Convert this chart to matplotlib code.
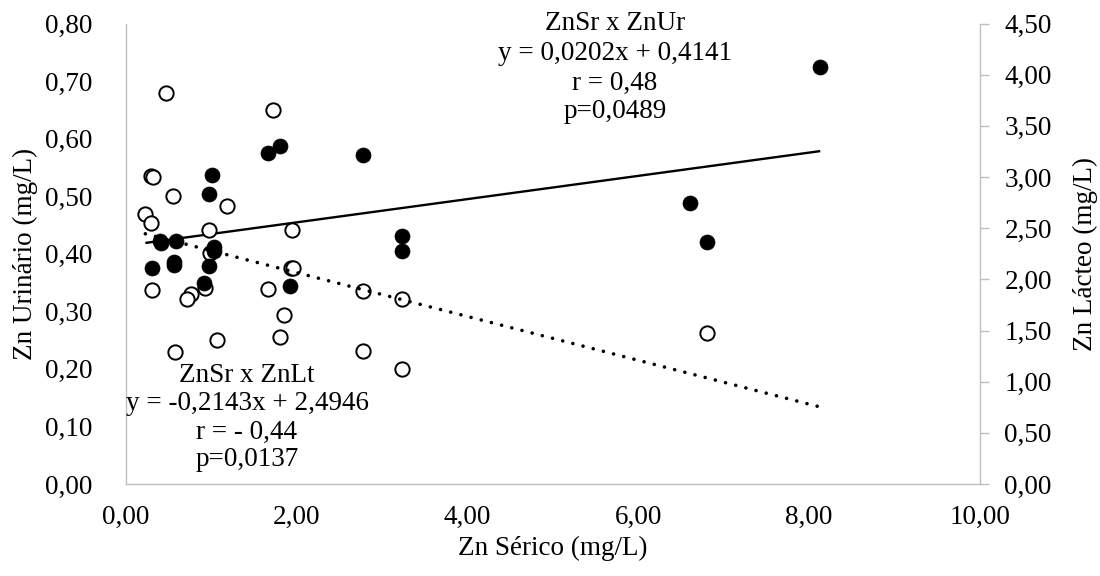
import matplotlib
matplotlib.use("Agg")
import matplotlib.pyplot as plt
import numpy as np
from matplotlib.ticker import FuncFormatter, MultipleLocator

plt.rcParams['font.family'] = ['Liberation Serif', 'DejaVu Serif']

# ZnSr x ZnUr (filled markers, left axis)
znsr_ur = [8.13, 6.60, 6.80, 3.24, 3.24, 2.78, 1.81, 1.66, 1.92, 1.01, 0.98,
           1.03, 1.03, 0.98, 0.92, 0.40, 0.41, 0.59, 0.31, 0.57, 0.57]
znur = [0.724, 0.488, 0.420, 0.430, 0.404, 0.571, 0.588, 0.575, 0.344, 0.537, 0.504,
        0.412, 0.405, 0.379, 0.349, 0.423, 0.418, 0.423, 0.375, 0.385, 0.381]

# ZnSr x ZnLt (open markers, right axis)
znsr_lt = [0.47, 1.73, 0.30, 0.32, 0.55, 1.19, 0.23, 0.30, 0.98, 1.95, 0.99,
           1.93, 1.96, 0.93, 0.31, 0.76, 0.72, 1.66, 1.85, 1.81, 1.07, 0.58,
           2.78, 3.24, 2.78, 3.24, 6.80]
znlt = [3.82, 3.65, 3.01, 3.00, 2.81, 2.72, 2.64, 2.55, 2.48, 2.48, 2.26,
        2.11, 2.11, 1.92, 1.90, 1.86, 1.81, 1.91, 1.65, 1.44, 1.41, 1.29,
        1.89, 1.81, 1.30, 1.12, 1.48]

# trendline coefficients (as printed on the chart)
slope_ur, icpt_ur = 0.0202, 0.4141
slope_lt, icpt_lt = -0.2143, 2.4946

txt_ur = ["ZnSr x ZnUr", "y = 0,0202x + 0,4141", "r = 0,48", "p=0,0489"]
txt_lt = ["ZnSr x ZnLt", "y = -0,2143x + 2,4946", "r = - 0,44", "p=0,0137"]

W, H = 1100, 576
fig = plt.figure(figsize=(11, 5.76), dpi=100)
L, R, B, T = 125.7 / W, 980 / W, 1 - 484 / H, 1 - 23.5 / H
rect = [L, B, R - L, T - B]

ax = fig.add_axes(rect)
ax2 = ax.twinx()
ax3 = fig.add_axes(rect, sharex=ax, sharey=ax)

ax.set_zorder(1)
ax2.set_zorder(2)
ax3.set_zorder(3)
ax2.patch.set_visible(False)
ax3.patch.set_visible(False)
ax3.axis('off')

gray = '#BFBFBF'
FS = 19.5
fmt = FuncFormatter(lambda v, p: f"{v:.2f}".replace('.', ','))

ax.set_xlim(0, 10)
ax.set_ylim(0, 0.80)
ax2.set_ylim(0, 4.50)
ax.xaxis.set_major_locator(MultipleLocator(2))
ax.yaxis.set_major_locator(MultipleLocator(0.1))
ax2.yaxis.set_major_locator(MultipleLocator(0.5))
ax.xaxis.set_major_formatter(fmt)
ax.yaxis.set_major_formatter(fmt)
ax2.yaxis.set_major_formatter(fmt)

for a in (ax, ax2):
    for s in a.spines.values():
        s.set_visible(False)
ax.spines['left'].set_visible(True)
ax.spines['bottom'].set_visible(True)
ax2.spines['right'].set_visible(True)
for s in (ax.spines['left'], ax.spines['bottom'], ax2.spines['right']):
    s.set_color(gray)
    s.set_linewidth(1.0)

ax.tick_params(axis='y', length=0, pad=24, labelsize=FS, colors='black')
ax.tick_params(axis='x', length=0, pad=15, labelsize=FS, colors='black')
ax2.tick_params(axis='y', length=6.5, width=1.0, color=gray, direction='out',
                pad=11, labelsize=FS, labelcolor='black')

xall = np.array(znsr_ur + znsr_lt)
xline = np.array([xall.min(), xall.max()])

# solid trendline (ZnUr)
ax.plot(xline, slope_ur * xline + icpt_ur, color='black', lw=1.7, zorder=2,
        solid_capstyle='butt')

# open markers and dotted trendline (ZnLt)
ax2.plot(znsr_lt, znlt, linestyle='none', marker='o', ms=10.3, mfc='white',
         mec='black', mew=1.4, zorder=2)
ax2.plot(xline, slope_lt * xline + icpt_lt, color='black', lw=2.6,
         linestyle=(0, (0.01, 2.9)), dash_capstyle='round', zorder=3)

# filled markers (ZnUr)
ax3.plot(znsr_ur, znur, linestyle='none', marker='o', ms=10.8, mfc='black',
         mec='black', mew=0.5, zorder=4)

def block(lines, cx, ys):
    for s, y in zip(lines, ys):
        fig.text(cx / W, 1 - y / H, s, ha='center', va='center', fontsize=FS)

block(txt_ur, 615, [23, 54, 83, 112])
block(txt_lt, 247, [375, 403, 432, 459])

fig.text(553 / W, 1 - 548 / H, "Zn Sérico (mg/L)", ha='center', va='center', fontsize=FS)
fig.text(25 / W, 1 - 254 / H, "Zn Urinário (mg/L)", ha='center', va='center',
         rotation=90, fontsize=FS)
fig.text(1085 / W, 1 - 254 / H, "Zn Lácteo (mg/L)", ha='center', va='center',
         rotation=90, fontsize=FS)

fig.savefig("out.png", dpi=100)
